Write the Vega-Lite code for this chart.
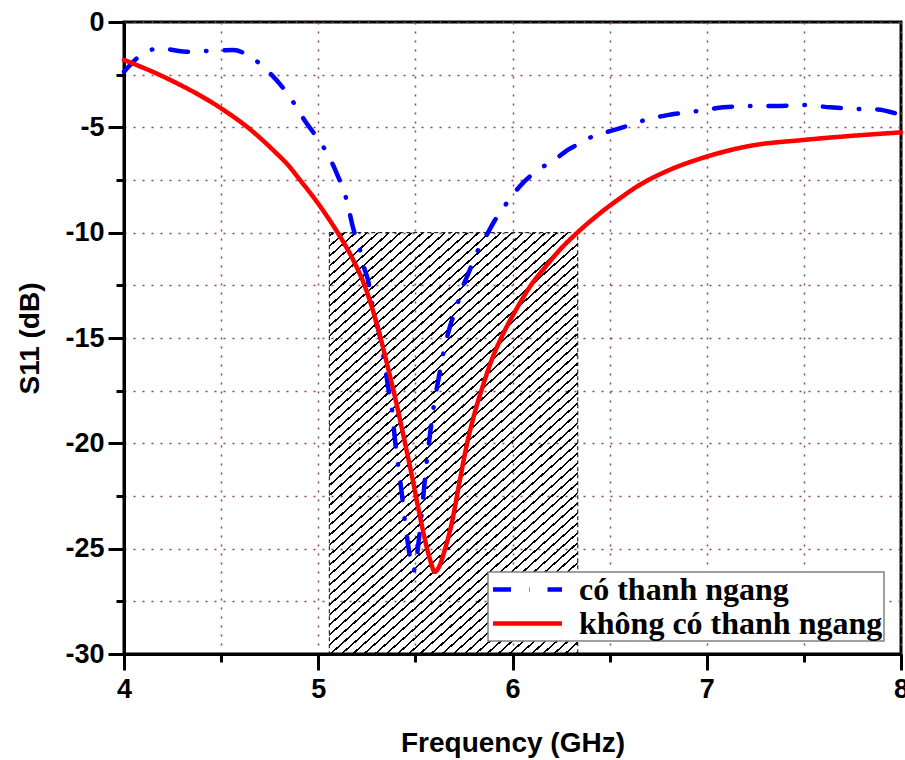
{
  "$schema": "https://vega.github.io/schema/vega-lite/v6.json",
  "width": 777,
  "height": 632,
  "autosize": {"type": "none"},
  "padding": {"left": 124, "top": 22, "right": 4, "bottom": 106},
  "background": "white",
  "config": {
    "view": {"stroke": "black", "strokeWidth": 3},
    "axis": {
      "domainColor": "black", "domainWidth": 3,
      "tickColor": "black", "tickWidth": 3,
      "grid": true, "gridColor": "#8B4563", "gridDash": [2, 7], "gridWidth": 1.5,
      "labelFont": "Liberation Sans", "labelFontWeight": "bold", "labelFontSize": 27, "labelColor": "black",
      "titleFont": "Liberation Sans", "titleFontWeight": "bold", "titleFontSize": 28, "titleColor": "black"
    },
    "legend": {
      "orient": "none", "legendX": 364, "legendY": 550,
      "title": null,
      "fillColor": "white", "strokeColor": "#808080", "strokeWidth": 1.5,
      "padding": 1,
      "labelFont": "Liberation Serif", "labelFontWeight": "bold", "labelFontSize": 32, "labelColor": "black",
      "labelLimit": 0,
      "symbolType": "M-2.5,0H2.5", "symbolSize": 762, "symbolStrokeWidth": 4.5,
      "symbolOffset": 22,
      "labelOffset": 35,
      "rowPadding": 1
    }
  },
  "layer": [
    {
      "data": {"values": [{"x1": 5.057, "x2": 6.336, "y1": -10, "y2": -30}]},
      "mark": {
        "type": "rect",
        "stroke": "black", "strokeWidth": 1, "strokeDash": [4, 3],
        "fill": {
          "gradient": "linear", "x1": 0, "y1": 0, "x2": 0.629, "y2": 1.195,
          "stops": [
            {"offset":0,"color":"rgba(0,0,0,0)"},
            {"offset":0.004,"color":"rgba(0,0,0,0)"},{"offset":0.004,"color":"#000"},{"offset":0.0073,"color":"#000"},{"offset":0.0073,"color":"rgba(0,0,0,0)"},
            {"offset":0.0195,"color":"rgba(0,0,0,0)"},{"offset":0.0195,"color":"#000"},{"offset":0.0228,"color":"#000"},{"offset":0.0228,"color":"rgba(0,0,0,0)"},
            {"offset":0.035,"color":"rgba(0,0,0,0)"},{"offset":0.035,"color":"#000"},{"offset":0.0383,"color":"#000"},{"offset":0.0383,"color":"rgba(0,0,0,0)"},
            {"offset":0.0505,"color":"rgba(0,0,0,0)"},{"offset":0.0505,"color":"#000"},{"offset":0.0538,"color":"#000"},{"offset":0.0538,"color":"rgba(0,0,0,0)"},
            {"offset":0.066,"color":"rgba(0,0,0,0)"},{"offset":0.066,"color":"#000"},{"offset":0.0693,"color":"#000"},{"offset":0.0693,"color":"rgba(0,0,0,0)"},
            {"offset":0.0815,"color":"rgba(0,0,0,0)"},{"offset":0.0815,"color":"#000"},{"offset":0.0848,"color":"#000"},{"offset":0.0848,"color":"rgba(0,0,0,0)"},
            {"offset":0.097,"color":"rgba(0,0,0,0)"},{"offset":0.097,"color":"#000"},{"offset":0.1003,"color":"#000"},{"offset":0.1003,"color":"rgba(0,0,0,0)"},
            {"offset":0.1125,"color":"rgba(0,0,0,0)"},{"offset":0.1125,"color":"#000"},{"offset":0.1158,"color":"#000"},{"offset":0.1158,"color":"rgba(0,0,0,0)"},
            {"offset":0.128,"color":"rgba(0,0,0,0)"},{"offset":0.128,"color":"#000"},{"offset":0.1313,"color":"#000"},{"offset":0.1313,"color":"rgba(0,0,0,0)"},
            {"offset":0.1435,"color":"rgba(0,0,0,0)"},{"offset":0.1435,"color":"#000"},{"offset":0.1468,"color":"#000"},{"offset":0.1468,"color":"rgba(0,0,0,0)"},
            {"offset":0.159,"color":"rgba(0,0,0,0)"},{"offset":0.159,"color":"#000"},{"offset":0.1623,"color":"#000"},{"offset":0.1623,"color":"rgba(0,0,0,0)"},
            {"offset":0.1745,"color":"rgba(0,0,0,0)"},{"offset":0.1745,"color":"#000"},{"offset":0.1778,"color":"#000"},{"offset":0.1778,"color":"rgba(0,0,0,0)"},
            {"offset":0.19,"color":"rgba(0,0,0,0)"},{"offset":0.19,"color":"#000"},{"offset":0.1933,"color":"#000"},{"offset":0.1933,"color":"rgba(0,0,0,0)"},
            {"offset":0.2055,"color":"rgba(0,0,0,0)"},{"offset":0.2055,"color":"#000"},{"offset":0.2088,"color":"#000"},{"offset":0.2088,"color":"rgba(0,0,0,0)"},
            {"offset":0.221,"color":"rgba(0,0,0,0)"},{"offset":0.221,"color":"#000"},{"offset":0.2243,"color":"#000"},{"offset":0.2243,"color":"rgba(0,0,0,0)"},
            {"offset":0.2365,"color":"rgba(0,0,0,0)"},{"offset":0.2365,"color":"#000"},{"offset":0.2398,"color":"#000"},{"offset":0.2398,"color":"rgba(0,0,0,0)"},
            {"offset":0.252,"color":"rgba(0,0,0,0)"},{"offset":0.252,"color":"#000"},{"offset":0.2553,"color":"#000"},{"offset":0.2553,"color":"rgba(0,0,0,0)"},
            {"offset":0.2675,"color":"rgba(0,0,0,0)"},{"offset":0.2675,"color":"#000"},{"offset":0.2708,"color":"#000"},{"offset":0.2708,"color":"rgba(0,0,0,0)"},
            {"offset":0.283,"color":"rgba(0,0,0,0)"},{"offset":0.283,"color":"#000"},{"offset":0.2863,"color":"#000"},{"offset":0.2863,"color":"rgba(0,0,0,0)"},
            {"offset":0.2985,"color":"rgba(0,0,0,0)"},{"offset":0.2985,"color":"#000"},{"offset":0.3018,"color":"#000"},{"offset":0.3018,"color":"rgba(0,0,0,0)"},
            {"offset":0.314,"color":"rgba(0,0,0,0)"},{"offset":0.314,"color":"#000"},{"offset":0.3173,"color":"#000"},{"offset":0.3173,"color":"rgba(0,0,0,0)"},
            {"offset":0.3295,"color":"rgba(0,0,0,0)"},{"offset":0.3295,"color":"#000"},{"offset":0.3328,"color":"#000"},{"offset":0.3328,"color":"rgba(0,0,0,0)"},
            {"offset":0.345,"color":"rgba(0,0,0,0)"},{"offset":0.345,"color":"#000"},{"offset":0.3483,"color":"#000"},{"offset":0.3483,"color":"rgba(0,0,0,0)"},
            {"offset":0.3605,"color":"rgba(0,0,0,0)"},{"offset":0.3605,"color":"#000"},{"offset":0.3638,"color":"#000"},{"offset":0.3638,"color":"rgba(0,0,0,0)"},
            {"offset":0.376,"color":"rgba(0,0,0,0)"},{"offset":0.376,"color":"#000"},{"offset":0.3793,"color":"#000"},{"offset":0.3793,"color":"rgba(0,0,0,0)"},
            {"offset":0.3915,"color":"rgba(0,0,0,0)"},{"offset":0.3915,"color":"#000"},{"offset":0.3948,"color":"#000"},{"offset":0.3948,"color":"rgba(0,0,0,0)"},
            {"offset":0.407,"color":"rgba(0,0,0,0)"},{"offset":0.407,"color":"#000"},{"offset":0.4103,"color":"#000"},{"offset":0.4103,"color":"rgba(0,0,0,0)"},
            {"offset":0.4225,"color":"rgba(0,0,0,0)"},{"offset":0.4225,"color":"#000"},{"offset":0.4258,"color":"#000"},{"offset":0.4258,"color":"rgba(0,0,0,0)"},
            {"offset":0.438,"color":"rgba(0,0,0,0)"},{"offset":0.438,"color":"#000"},{"offset":0.4413,"color":"#000"},{"offset":0.4413,"color":"rgba(0,0,0,0)"},
            {"offset":0.4535,"color":"rgba(0,0,0,0)"},{"offset":0.4535,"color":"#000"},{"offset":0.4568,"color":"#000"},{"offset":0.4568,"color":"rgba(0,0,0,0)"},
            {"offset":0.469,"color":"rgba(0,0,0,0)"},{"offset":0.469,"color":"#000"},{"offset":0.4723,"color":"#000"},{"offset":0.4723,"color":"rgba(0,0,0,0)"},
            {"offset":0.4845,"color":"rgba(0,0,0,0)"},{"offset":0.4845,"color":"#000"},{"offset":0.4878,"color":"#000"},{"offset":0.4878,"color":"rgba(0,0,0,0)"},
            {"offset":0.5,"color":"rgba(0,0,0,0)"},{"offset":0.5,"color":"#000"},{"offset":0.5033,"color":"#000"},{"offset":0.5033,"color":"rgba(0,0,0,0)"},
            {"offset":0.5155,"color":"rgba(0,0,0,0)"},{"offset":0.5155,"color":"#000"},{"offset":0.5188,"color":"#000"},{"offset":0.5188,"color":"rgba(0,0,0,0)"},
            {"offset":0.531,"color":"rgba(0,0,0,0)"},{"offset":0.531,"color":"#000"},{"offset":0.5343,"color":"#000"},{"offset":0.5343,"color":"rgba(0,0,0,0)"},
            {"offset":0.5465,"color":"rgba(0,0,0,0)"},{"offset":0.5465,"color":"#000"},{"offset":0.5498,"color":"#000"},{"offset":0.5498,"color":"rgba(0,0,0,0)"},
            {"offset":0.562,"color":"rgba(0,0,0,0)"},{"offset":0.562,"color":"#000"},{"offset":0.5653,"color":"#000"},{"offset":0.5653,"color":"rgba(0,0,0,0)"},
            {"offset":0.5775,"color":"rgba(0,0,0,0)"},{"offset":0.5775,"color":"#000"},{"offset":0.5808,"color":"#000"},{"offset":0.5808,"color":"rgba(0,0,0,0)"},
            {"offset":0.593,"color":"rgba(0,0,0,0)"},{"offset":0.593,"color":"#000"},{"offset":0.5963,"color":"#000"},{"offset":0.5963,"color":"rgba(0,0,0,0)"},
            {"offset":0.6085,"color":"rgba(0,0,0,0)"},{"offset":0.6085,"color":"#000"},{"offset":0.6118,"color":"#000"},{"offset":0.6118,"color":"rgba(0,0,0,0)"},
            {"offset":0.624,"color":"rgba(0,0,0,0)"},{"offset":0.624,"color":"#000"},{"offset":0.6273,"color":"#000"},{"offset":0.6273,"color":"rgba(0,0,0,0)"},
            {"offset":0.6395,"color":"rgba(0,0,0,0)"},{"offset":0.6395,"color":"#000"},{"offset":0.6428,"color":"#000"},{"offset":0.6428,"color":"rgba(0,0,0,0)"},
            {"offset":0.655,"color":"rgba(0,0,0,0)"},{"offset":0.655,"color":"#000"},{"offset":0.6583,"color":"#000"},{"offset":0.6583,"color":"rgba(0,0,0,0)"},
            {"offset":0.6705,"color":"rgba(0,0,0,0)"},{"offset":0.6705,"color":"#000"},{"offset":0.6738,"color":"#000"},{"offset":0.6738,"color":"rgba(0,0,0,0)"},
            {"offset":0.686,"color":"rgba(0,0,0,0)"},{"offset":0.686,"color":"#000"},{"offset":0.6893,"color":"#000"},{"offset":0.6893,"color":"rgba(0,0,0,0)"},
            {"offset":0.7015,"color":"rgba(0,0,0,0)"},{"offset":0.7015,"color":"#000"},{"offset":0.7048,"color":"#000"},{"offset":0.7048,"color":"rgba(0,0,0,0)"},
            {"offset":0.717,"color":"rgba(0,0,0,0)"},{"offset":0.717,"color":"#000"},{"offset":0.7203,"color":"#000"},{"offset":0.7203,"color":"rgba(0,0,0,0)"},
            {"offset":0.7325,"color":"rgba(0,0,0,0)"},{"offset":0.7325,"color":"#000"},{"offset":0.7358,"color":"#000"},{"offset":0.7358,"color":"rgba(0,0,0,0)"},
            {"offset":0.748,"color":"rgba(0,0,0,0)"},{"offset":0.748,"color":"#000"},{"offset":0.7513,"color":"#000"},{"offset":0.7513,"color":"rgba(0,0,0,0)"},
            {"offset":0.7635,"color":"rgba(0,0,0,0)"},{"offset":0.7635,"color":"#000"},{"offset":0.7668,"color":"#000"},{"offset":0.7668,"color":"rgba(0,0,0,0)"},
            {"offset":0.779,"color":"rgba(0,0,0,0)"},{"offset":0.779,"color":"#000"},{"offset":0.7823,"color":"#000"},{"offset":0.7823,"color":"rgba(0,0,0,0)"},
            {"offset":0.7945,"color":"rgba(0,0,0,0)"},{"offset":0.7945,"color":"#000"},{"offset":0.7978,"color":"#000"},{"offset":0.7978,"color":"rgba(0,0,0,0)"},
            {"offset":0.81,"color":"rgba(0,0,0,0)"},{"offset":0.81,"color":"#000"},{"offset":0.8133,"color":"#000"},{"offset":0.8133,"color":"rgba(0,0,0,0)"},
            {"offset":0.8255,"color":"rgba(0,0,0,0)"},{"offset":0.8255,"color":"#000"},{"offset":0.8288,"color":"#000"},{"offset":0.8288,"color":"rgba(0,0,0,0)"},
            {"offset":0.841,"color":"rgba(0,0,0,0)"},{"offset":0.841,"color":"#000"},{"offset":0.8443,"color":"#000"},{"offset":0.8443,"color":"rgba(0,0,0,0)"},
            {"offset":0.8565,"color":"rgba(0,0,0,0)"},{"offset":0.8565,"color":"#000"},{"offset":0.8598,"color":"#000"},{"offset":0.8598,"color":"rgba(0,0,0,0)"},
            {"offset":0.872,"color":"rgba(0,0,0,0)"},{"offset":0.872,"color":"#000"},{"offset":0.8753,"color":"#000"},{"offset":0.8753,"color":"rgba(0,0,0,0)"},
            {"offset":0.8875,"color":"rgba(0,0,0,0)"},{"offset":0.8875,"color":"#000"},{"offset":0.8908,"color":"#000"},{"offset":0.8908,"color":"rgba(0,0,0,0)"},
            {"offset":0.903,"color":"rgba(0,0,0,0)"},{"offset":0.903,"color":"#000"},{"offset":0.9063,"color":"#000"},{"offset":0.9063,"color":"rgba(0,0,0,0)"},
            {"offset":0.9185,"color":"rgba(0,0,0,0)"},{"offset":0.9185,"color":"#000"},{"offset":0.9218,"color":"#000"},{"offset":0.9218,"color":"rgba(0,0,0,0)"},
            {"offset":0.934,"color":"rgba(0,0,0,0)"},{"offset":0.934,"color":"#000"},{"offset":0.9373,"color":"#000"},{"offset":0.9373,"color":"rgba(0,0,0,0)"},
            {"offset":0.9495,"color":"rgba(0,0,0,0)"},{"offset":0.9495,"color":"#000"},{"offset":0.9528,"color":"#000"},{"offset":0.9528,"color":"rgba(0,0,0,0)"},
            {"offset":0.965,"color":"rgba(0,0,0,0)"},{"offset":0.965,"color":"#000"},{"offset":0.9683,"color":"#000"},{"offset":0.9683,"color":"rgba(0,0,0,0)"},
            {"offset":0.9805,"color":"rgba(0,0,0,0)"},{"offset":0.9805,"color":"#000"},{"offset":0.9838,"color":"#000"},{"offset":0.9838,"color":"rgba(0,0,0,0)"},
            {"offset":0.996,"color":"rgba(0,0,0,0)"},{"offset":0.996,"color":"#000"},{"offset":0.9993,"color":"#000"},{"offset":0.9993,"color":"rgba(0,0,0,0)"},
            {"offset":1,"color":"rgba(0,0,0,0)"}
          ]
        }
      },
      "encoding": {
        "x": {
          "field": "x1", "type": "quantitative",
          "scale": {"domain": [4, 8], "nice": false, "zero": false},
          "axis": {
            "title": "Frequency (GHz)",
            "values": [4, 4.5, 5, 5.5, 6, 6.5, 7, 7.5, 8],
            "labelExpr": "datum.value % 1 === 0 ? '' + datum.value : ''",
            "tickSize": {"condition": {"test": "datum.value % 1 === 0", "value": 16}, "value": 8},
            "labelPadding": 6,
            "titlePadding": 27,
            "labelFlush": false
          }
        },
        "x2": {"field": "x2"},
        "y": {
          "field": "y1", "type": "quantitative",
          "scale": {"domain": [-30, 0], "nice": false, "zero": false},
          "axis": {
            "title": "S11 (dB)",
            "values": [0, -2.5, -5, -7.5, -10, -12.5, -15, -17.5, -20, -22.5, -25, -27.5, -30],
            "labelExpr": "datum.value % 5 === 0 ? '' + datum.value : ''",
            "tickSize": {"condition": {"test": "datum.value % 5 === 0", "value": 16}, "value": 8},
            "labelPadding": 4,
            "titlePadding": 20,
            "labelFlush": false
          }
        },
        "y2": {"field": "y2"}
      }
    },
    {
      "data": {"values": [
        {"f":4.0,"s":-2.36,"series":"có thanh ngang"},
        {"f":4.1,"s":-1.49,"series":"có thanh ngang"},
        {"f":4.185,"s":-1.25,"series":"có thanh ngang"},
        {"f":4.32,"s":-1.41,"series":"có thanh ngang"},
        {"f":4.46,"s":-1.36,"series":"có thanh ngang"},
        {"f":4.563,"s":-1.33,"series":"có thanh ngang"},
        {"f":4.65,"s":-1.65,"series":"có thanh ngang"},
        {"f":4.735,"s":-2.28,"series":"có thanh ngang"},
        {"f":4.84,"s":-3.38,"series":"có thanh ngang"},
        {"f":4.94,"s":-4.81,"series":"có thanh ngang"},
        {"f":5.026,"s":-5.92,"series":"có thanh ngang"},
        {"f":5.095,"s":-7.18,"series":"có thanh ngang"},
        {"f":5.146,"s":-8.45,"series":"có thanh ngang"},
        {"f":5.18,"s":-9.8,"series":"có thanh ngang"},
        {"f":5.215,"s":-10.82,"series":"có thanh ngang"},
        {"f":5.232,"s":-11.53,"series":"có thanh ngang"},
        {"f":5.258,"s":-12.33,"series":"có thanh ngang"},
        {"f":5.283,"s":-13.67,"series":"có thanh ngang"},
        {"f":5.318,"s":-14.94,"series":"có thanh ngang"},
        {"f":5.344,"s":-16.36,"series":"có thanh ngang"},
        {"f":5.361,"s":-17.39,"series":"có thanh ngang"},
        {"f":5.378,"s":-18.26,"series":"có thanh ngang"},
        {"f":5.395,"s":-19.84,"series":"có thanh ngang"},
        {"f":5.412,"s":-21.1,"series":"có thanh ngang"},
        {"f":5.43,"s":-22.37,"series":"có thanh ngang"},
        {"f":5.447,"s":-23.79,"series":"có thanh ngang"},
        {"f":5.464,"s":-24.9,"series":"có thanh ngang"},
        {"f":5.481,"s":-25.85,"series":"có thanh ngang"},
        {"f":5.49,"s":-26.05,"series":"có thanh ngang"},
        {"f":5.507,"s":-25.4,"series":"có thanh ngang"},
        {"f":5.52,"s":-24.4,"series":"có thanh ngang"},
        {"f":5.533,"s":-23.3,"series":"có thanh ngang"},
        {"f":5.545,"s":-22.1,"series":"có thanh ngang"},
        {"f":5.558,"s":-20.9,"series":"có thanh ngang"},
        {"f":5.575,"s":-19.6,"series":"có thanh ngang"},
        {"f":5.592,"s":-18.4,"series":"có thanh ngang"},
        {"f":5.606,"s":-17.6,"series":"có thanh ngang"},
        {"f":5.62,"s":-16.9,"series":"có thanh ngang"},
        {"f":5.644,"s":-15.72,"series":"có thanh ngang"},
        {"f":5.678,"s":-14.46,"series":"có thanh ngang"},
        {"f":5.713,"s":-13.51,"series":"có thanh ngang"},
        {"f":5.738,"s":-12.72,"series":"có thanh ngang"},
        {"f":5.773,"s":-11.93,"series":"có thanh ngang"},
        {"f":5.815,"s":-10.98,"series":"có thanh ngang"},
        {"f":5.867,"s":-10.11,"series":"có thanh ngang"},
        {"f":5.91,"s":-9.4,"series":"có thanh ngang"},
        {"f":5.97,"s":-8.6,"series":"có thanh ngang"},
        {"f":6.039,"s":-7.78,"series":"có thanh ngang"},
        {"f":6.133,"s":-7.02,"series":"có thanh ngang"},
        {"f":6.228,"s":-6.47,"series":"có thanh ngang"},
        {"f":6.279,"s":-6.1,"series":"có thanh ngang"},
        {"f":6.33,"s":-5.84,"series":"có thanh ngang"},
        {"f":6.408,"s":-5.45,"series":"có thanh ngang"},
        {"f":6.502,"s":-5.18,"series":"có thanh ngang"},
        {"f":6.605,"s":-4.89,"series":"có thanh ngang"},
        {"f":6.682,"s":-4.65,"series":"có thanh ngang"},
        {"f":6.81,"s":-4.4,"series":"có thanh ngang"},
        {"f":6.956,"s":-4.22,"series":"có thanh ngang"},
        {"f":7.085,"s":-4.05,"series":"có thanh ngang"},
        {"f":7.223,"s":-3.99,"series":"có thanh ngang"},
        {"f":7.36,"s":-3.99,"series":"có thanh ngang"},
        {"f":7.497,"s":-3.94,"series":"có thanh ngang"},
        {"f":7.635,"s":-4.05,"series":"có thanh ngang"},
        {"f":7.772,"s":-4.13,"series":"có thanh ngang"},
        {"f":7.875,"s":-4.15,"series":"có thanh ngang"},
        {"f":7.97,"s":-4.33,"series":"có thanh ngang"},
        {"f":8.0,"s":-4.42,"series":"có thanh ngang"},
        {"f":4.0,"s":-1.8,"series":"không có thanh ngang"},
        {"f":4.22,"s":-2.67,"series":"không có thanh ngang"},
        {"f":4.5,"s":-4.1,"series":"không có thanh ngang"},
        {"f":4.65,"s":-5.1,"series":"không có thanh ngang"},
        {"f":4.77,"s":-6.1,"series":"không có thanh ngang"},
        {"f":4.85,"s":-6.85,"series":"không có thanh ngang"},
        {"f":4.906,"s":-7.5,"series":"không có thanh ngang"},
        {"f":4.97,"s":-8.25,"series":"không có thanh ngang"},
        {"f":5.04,"s":-9.15,"series":"không có thanh ngang"},
        {"f":5.1,"s":-10.0,"series":"không có thanh ngang"},
        {"f":5.18,"s":-11.3,"series":"không có thanh ngang"},
        {"f":5.232,"s":-12.35,"series":"không có thanh ngang"},
        {"f":5.275,"s":-13.5,"series":"không có thanh ngang"},
        {"f":5.318,"s":-14.9,"series":"không có thanh ngang"},
        {"f":5.36,"s":-16.45,"series":"không có thanh ngang"},
        {"f":5.4,"s":-18.0,"series":"không có thanh ngang"},
        {"f":5.44,"s":-19.7,"series":"không có thanh ngang"},
        {"f":5.48,"s":-21.45,"series":"không có thanh ngang"},
        {"f":5.52,"s":-23.3,"series":"không có thanh ngang"},
        {"f":5.55,"s":-24.6,"series":"không có thanh ngang"},
        {"f":5.575,"s":-25.5,"series":"không có thanh ngang"},
        {"f":5.6,"s":-26.1,"series":"không có thanh ngang"},
        {"f":5.625,"s":-25.8,"series":"không có thanh ngang"},
        {"f":5.65,"s":-25.1,"series":"không có thanh ngang"},
        {"f":5.687,"s":-23.8,"series":"không có thanh ngang"},
        {"f":5.73,"s":-21.7,"series":"không có thanh ngang"},
        {"f":5.764,"s":-20.1,"series":"không có thanh ngang"},
        {"f":5.807,"s":-18.5,"series":"không có thanh ngang"},
        {"f":5.85,"s":-17.2,"series":"không có thanh ngang"},
        {"f":5.893,"s":-16.04,"series":"không có thanh ngang"},
        {"f":5.953,"s":-14.78,"series":"không có thanh ngang"},
        {"f":6.022,"s":-13.6,"series":"không có thanh ngang"},
        {"f":6.09,"s":-12.56,"series":"không có thanh ngang"},
        {"f":6.176,"s":-11.55,"series":"không có thanh ngang"},
        {"f":6.25,"s":-10.75,"series":"không có thanh ngang"},
        {"f":6.33,"s":-10.03,"series":"không có thanh ngang"},
        {"f":6.45,"s":-9.08,"series":"không có thanh ngang"},
        {"f":6.553,"s":-8.37,"series":"không có thanh ngang"},
        {"f":6.639,"s":-7.82,"series":"không có thanh ngang"},
        {"f":6.794,"s":-7.08,"series":"không có thanh ngang"},
        {"f":7.0,"s":-6.39,"series":"không có thanh ngang"},
        {"f":7.223,"s":-5.88,"series":"không có thanh ngang"},
        {"f":7.497,"s":-5.6,"series":"không có thanh ngang"},
        {"f":7.738,"s":-5.41,"series":"không có thanh ngang"},
        {"f":8.0,"s":-5.24,"series":"không có thanh ngang"}
      ]},
      "mark": {"type": "line", "strokeWidth": 4.5, "strokeCap": "round", "interpolate": "monotone"},
      "encoding": {
        "x": {
          "field": "f", "type": "quantitative",
          "scale": {"domain": [4, 8], "nice": false, "zero": false},
          "axis": {
            "title": "Frequency (GHz)",
            "values": [4, 4.5, 5, 5.5, 6, 6.5, 7, 7.5, 8],
            "labelExpr": "datum.value % 1 === 0 ? '' + datum.value : ''",
            "tickSize": {"condition": {"test": "datum.value % 1 === 0", "value": 16}, "value": 8},
            "labelPadding": 6,
            "titlePadding": 27,
            "labelFlush": false
          }
        },
        "y": {
          "field": "s", "type": "quantitative",
          "scale": {"domain": [-30, 0], "nice": false, "zero": false},
          "axis": {
            "title": "S11 (dB)",
            "values": [0, -2.5, -5, -7.5, -10, -12.5, -15, -17.5, -20, -22.5, -25, -27.5, -30],
            "labelExpr": "datum.value % 5 === 0 ? '' + datum.value : ''",
            "tickSize": {"condition": {"test": "datum.value % 5 === 0", "value": 16}, "value": 8},
            "labelPadding": 4,
            "titlePadding": 20,
            "labelFlush": false
          }
        },
        "color": {
          "field": "series", "type": "nominal",
          "scale": {"domain": ["có thanh ngang", "không có thanh ngang"], "range": ["#0000FF", "#FF0000"]}
        },
        "strokeDash": {
          "field": "series", "type": "nominal",
          "scale": {"domain": ["có thanh ngang", "không có thanh ngang"], "range": [[18, 18, 0.5, 18], [1, 0]]}
        }
      }
    }
  ]
}
